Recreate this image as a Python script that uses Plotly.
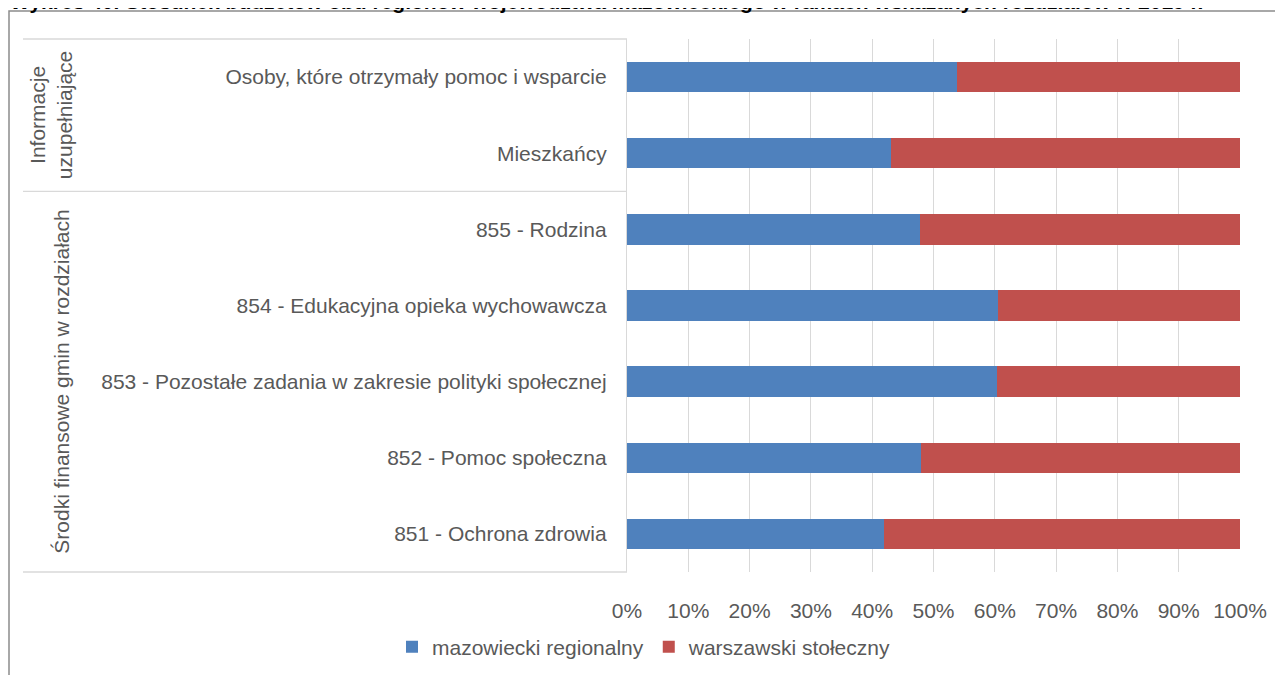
import plotly.graph_objects as go

categories = [
    "Osoby, które otrzymały pomoc i wsparcie",
    "Mieszkańcy",
    "855 - Rodzina",
    "854 - Edukacyjna opieka wychowawcza",
    "853 - Pozostałe zadania w zakresie polityki społecznej",
    "852 - Pomoc społeczna",
    "851 - Ochrona zdrowia",
]
mazowiecki = [0.538, 0.430, 0.478, 0.605, 0.604, 0.480, 0.420]
warszawski = [round(1 - v, 3) for v in mazowiecki]

groups = ["Informacje<br>uzupełniające", "Środki finansowe gmin w rozdziałach"]
group_sizes = [2, 5]

title_text = ("Wykres 40. Stosunek budżetów obu regionów województwa "
              "mazowieckiego w ramach wskazanych rozdziałów w 2019 r.")

FONT = "Arial, Liberation Sans, sans-serif"
GREY = "#595959"
GRID = "#D9D9D9"

# plot area in page pixels (the page body adds an 8px offset)
OFF = 8
W, H = 1283, 675
L, R, T, B = 627, 1240, 39, 572
pw, ph = R - L, B - T


def px_x(x):
    return (x - L) / pw


def px_y(y):
    return (B - y) / ph


fig = go.Figure()
fig.add_trace(go.Bar(y=categories, x=mazowiecki, orientation="h",
                     name="mazowiecki regionalny", marker_color="#4F81BD",
                     marker_line_width=0))
fig.add_trace(go.Bar(y=categories, x=warszawski, orientation="h",
                     name="warszawski stołeczny", marker_color="#C0504D",
                     marker_line_width=0))

shapes = []
# outer frame
shapes.append(dict(type="rect", xref="paper", yref="paper",
                   x0=px_x(9), x1=px_x(1300), y0=px_y(700), y1=px_y(11),
                   line=dict(color="#8C8C8C", width=1.5), layer="below"))
# group separators
n = len(categories)
pos = 0
seps = [0]
for s in group_sizes:
    pos += s
    seps.append(pos)
for k in seps:
    yy = 1 - k / n
    shapes.append(dict(type="line", xref="paper", yref="paper",
                       x0=px_x(23), x1=0, y0=yy, y1=yy,
                       line=dict(color=GRID, width=1.3)))

annotations = []
group_x = [51, 62]
for g, a, b, gx in zip(groups, seps[:-1], seps[1:], group_x):
    yc = 1 - (a + b) / 2 / n
    annotations.append(dict(text=g, xref="paper", yref="paper",
                            x=px_x(gx), y=yc, textangle=-90, showarrow=False,
                            xanchor="center", yanchor="middle",
                            font=dict(family=FONT, size=21, color=GREY)))
annotations.append(dict(text="<b>" + title_text + "</b>", xref="paper", yref="paper",
                        x=px_x(8), y=px_y(15), xanchor="left", yanchor="bottom",
                        showarrow=False,
                        font=dict(family=FONT, size=21, color="#000000")))

fig.update_layout(
    width=W, height=H,
    margin=dict(l=L - OFF, r=W - R + OFF, t=T - OFF, b=H - B + OFF, pad=0,
                autoexpand=False),
    barmode="stack", bargap=0.6,
    plot_bgcolor="white", paper_bgcolor="white",
    font=dict(family=FONT, size=21, color=GREY),
    shapes=shapes, annotations=annotations,
    legend=dict(orientation="h", x=px_x(392), y=px_y(647), xanchor="left",
                yanchor="middle", font=dict(size=21, color=GREY),
                itemwidth=30, traceorder="normal"),
    showlegend=True,
)
fig.update_xaxes(range=[0, 1], dtick=0.1, tickformat=".0%", showgrid=True,
                 gridcolor=GRID, gridwidth=1.3, zeroline=False,
                 ticklabelstandoff=24, fixedrange=True)
fig.update_yaxes(autorange="reversed", showline=True, linecolor=GRID,
                 linewidth=1.3, ticklabelstandoff=15, fixedrange=True)

fig.write_html("out.html")
